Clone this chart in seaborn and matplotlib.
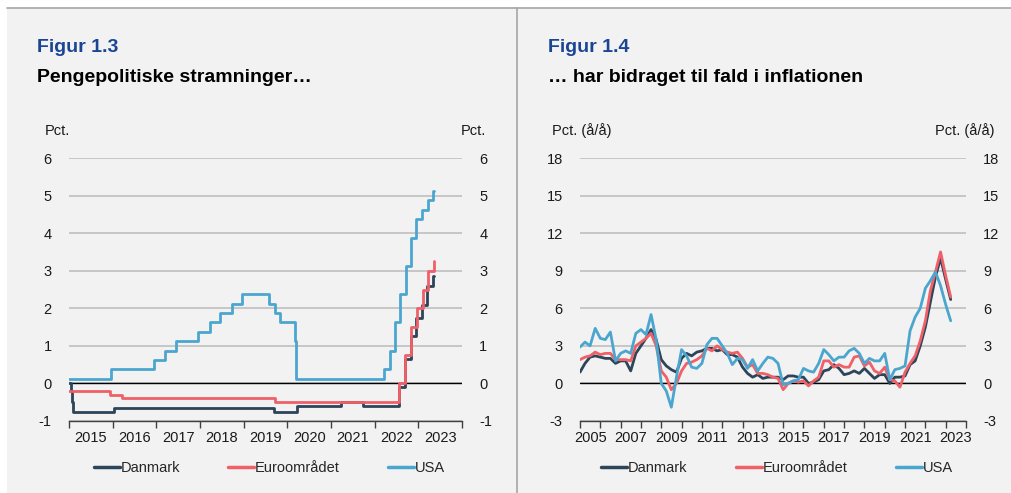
import matplotlib.pyplot as plt
import numpy as np
import pandas as pd
import seaborn as sns
from matplotlib.lines import Line2D
from matplotlib.patches import Rectangle

# Policy rates (Figur 1.3): dates where the rate changes, and the new rate
dk_dates = ["2015-01-01", "2015-01-20", "2015-01-23", "2015-01-30", "2015-02-06",
            "2016-01-08", "2019-09-13", "2020-03-20", "2021-03-26", "2021-09-24",
            "2022-07-22", "2022-09-09", "2022-11-04", "2022-12-16", "2023-02-03",
            "2023-03-17", "2023-05-05", "2023-05-12"]
dk_rate = [0.0, -0.2, -0.35, -0.5, -0.75,
           -0.65, -0.75, -0.6, -0.5, -0.6,
           -0.1, 0.65, 1.25, 1.75, 2.1,
           2.6, 2.85, 2.85]

eu_dates = ["2015-01-01", "2015-12-09", "2016-03-16", "2019-09-18", "2022-07-27",
            "2022-09-14", "2022-11-02", "2022-12-21", "2023-02-08", "2023-03-22",
            "2023-05-10", "2023-05-12"]
eu_rate = [-0.2, -0.3, -0.4, -0.5, 0.0,
           0.75, 1.5, 2.0, 2.5, 3.0,
           3.25, 3.25]

us_dates = ["2015-01-01", "2015-12-17", "2016-12-15", "2017-03-16", "2017-06-15",
            "2017-12-14", "2018-03-22", "2018-06-14", "2018-09-27", "2018-12-20",
            "2019-08-01", "2019-09-19", "2019-10-31", "2020-03-04", "2020-03-16",
            "2022-03-17", "2022-05-05", "2022-06-16", "2022-07-28", "2022-09-22",
            "2022-11-03", "2022-12-15", "2023-02-02", "2023-03-23", "2023-05-04",
            "2023-05-12"]
us_rate = [0.125, 0.375, 0.625, 0.875, 1.125,
           1.375, 1.625, 1.875, 2.125, 2.375,
           2.125, 1.875, 1.625, 1.125, 0.125,
           0.375, 0.875, 1.625, 2.375, 3.125,
           3.875, 4.375, 4.625, 4.875, 5.125,
           5.125]

# Inflation (Figur 1.4), quarterly readings from 2005Q1 to 2023Q2, pct. y/y
infl_start = "2005-01-01"
dk_infl = [0.9, 1.6, 2.1, 2.2, 2.1, 2.0, 2.0, 1.6, 1.8, 1.8, 1.0, 2.4,
           3.0, 3.6, 4.3, 3.5, 1.9, 1.4, 1.1, 0.9, 2.0, 2.4, 2.2, 2.5,
           2.6, 2.8, 2.8, 2.6, 2.7, 2.3, 2.3, 2.1, 1.3, 0.8, 0.5, 0.7,
           0.4, 0.5, 0.5, 0.5, 0.3, 0.6, 0.6, 0.5, 0.5, 0.0, 0.1, 0.3,
           1.0, 1.1, 1.5, 1.2, 0.7, 0.8, 1.0, 0.8, 1.2, 0.8, 0.4, 0.7,
           0.7, 0.0, 0.5, 0.5, 0.6, 1.5, 1.8, 3.0, 4.5, 6.5, 8.5, 10.0,
           8.3, 6.7]
eu_infl = [1.9, 2.1, 2.2, 2.5, 2.3, 2.4, 2.4, 1.9, 1.9, 1.9, 1.8, 3.0,
           3.3, 3.6, 4.0, 3.0, 1.0, 0.5, -0.5, 0.0, 1.0, 1.6, 1.7, 1.9,
           2.2, 2.8, 2.6, 3.0, 2.7, 2.5, 2.4, 2.5, 2.0, 1.3, 1.5, 0.8,
           0.8, 0.7, 0.5, 0.4, -0.5, 0.0, 0.2, 0.1, 0.2, -0.2, 0.2, 0.5,
           1.8, 1.8, 1.3, 1.5, 1.3, 1.3, 2.1, 2.2, 1.4, 1.7, 1.0, 0.8,
           1.3, 0.3, 0.2, -0.3, 0.9, 1.6, 2.2, 3.4, 5.0, 7.4, 8.9, 10.5,
           8.6, 6.9]
us_infl = [2.9, 3.3, 3.0, 4.4, 3.6, 3.5, 4.1, 1.8, 2.4, 2.6, 2.4, 4.0,
           4.3, 3.9, 5.5, 3.5, 0.0, -0.6, -1.9, 0.5, 2.7, 2.2, 1.3, 1.2,
           1.6, 3.1, 3.6, 3.6, 3.0, 2.4, 1.5, 2.0, 1.9, 1.2, 1.9, 1.0,
           1.6, 2.1, 2.0, 1.6, -0.1, 0.0, 0.2, 0.3, 1.2, 1.0, 0.9, 1.6,
           2.7, 2.3, 1.8, 2.1, 2.1, 2.6, 2.8, 2.4, 1.6, 2.0, 1.8, 1.8,
           2.4, 0.3, 1.1, 1.2, 1.4, 4.2, 5.3, 6.0, 7.6, 8.2, 8.9, 7.8,
           6.3, 5.0]

series_names = ["Danmark", "Euroområdet", "USA"]
colors = {"Danmark": "#2c4559", "Euroområdet": "#ef6068", "USA": "#4ba6cf"}
W, H = 1012, 493


def decimal_year(dates):
    d = pd.to_datetime(pd.Series(dates))
    days = np.where(d.dt.is_leap_year, 366, 365)
    return (d.dt.year + (d.dt.dayofyear - 1) / days).to_numpy()


def fig_xy(x, y):
    # pixel position in the reference -> figure fraction
    return x / W, 1 - y / H


rates = pd.concat([
    pd.DataFrame({"t": decimal_year(dk_dates), "value": dk_rate, "series": "Danmark"}),
    pd.DataFrame({"t": decimal_year(eu_dates), "value": eu_rate, "series": "Euroområdet"}),
    pd.DataFrame({"t": decimal_year(us_dates), "value": us_rate, "series": "USA"}),
])

infl_t = decimal_year(pd.date_range(infl_start, periods=len(dk_infl), freq="QS"))
infl = pd.concat([
    pd.DataFrame({"t": infl_t, "value": dk_infl, "series": "Danmark"}),
    pd.DataFrame({"t": infl_t, "value": eu_infl, "series": "Euroområdet"}),
    pd.DataFrame({"t": infl_t, "value": us_infl, "series": "USA"}),
])

sns.set_style("white")
plt.rcParams["font.family"] = ["Liberation Sans", "DejaVu Sans"]
plt.rcParams["font.size"] = 10

fig = plt.figure(figsize=(W / 100, H / 100), dpi=100, facecolor="white")
fig.patches.append(Rectangle((7 / W, 0), 1, (H - 8) / H, transform=fig.transFigure,
                             facecolor="#f2f2f2", edgecolor="none", zorder=-10))
fig.add_artist(Line2D([7 / W, 1], [1 - 8 / H, 1 - 8 / H], color="#a6a6a6", lw=1.2))
fig.add_artist(Line2D([517 / W, 517 / W], [0, 1 - 8 / H], color="#a6a6a6", lw=1.2))

ax1 = fig.add_axes([69 / W, 1 - 421 / H, 393 / W, 263 / H])
ax2 = fig.add_axes([580 / W, 1 - 421 / H, 386 / W, 263 / H])

sns.lineplot(data=rates, x="t", y="value", hue="series", hue_order=series_names,
             palette=colors, estimator=None, sort=False, drawstyle="steps-post",
             linewidth=2.0, ax=ax1)
sns.lineplot(data=infl, x="t", y="value", hue="series", hue_order=series_names,
             palette=colors, estimator=None, sort=False, linewidth=2.0, ax=ax2)


def style_axis(ax, ylim, yticks, years, label_years):
    ax.set_facecolor("none")
    ax.set_xlim(years[0], years[-1])
    ax.set_ylim(*ylim)
    ax.set_yticks(yticks)
    ax.set_yticklabels([str(v) for v in yticks])
    ax.set_xlabel("")
    ax.set_ylabel("")
    ax.yaxis.grid(True, color="#bfbfbf", lw=1.2, zorder=0)
    ax.xaxis.grid(False)
    ax.axhline(0, color="black", lw=1.0, zorder=1.5)
    for side in ["top", "left", "right"]:
        ax.spines[side].set_visible(False)
    ax.spines["bottom"].set_color("#404040")
    ax.spines["bottom"].set_linewidth(1.0)
    ax.set_xticks(years)
    ax.set_xticklabels([])
    ax.set_xticks([y + 0.5 for y in label_years], minor=True)
    ax.set_xticklabels([str(y) for y in label_years], minor=True)
    ax.tick_params(axis="x", which="major", length=5, width=1, color="#404040",
                   direction="out", bottom=True)
    ax.tick_params(axis="x", which="minor", length=0, pad=7, labelsize=10.5,
                   labelcolor="#1a1a1a")
    ax.tick_params(axis="y", which="both", left=False, right=False, labelleft=True,
                   labelright=True, pad=9, labelsize=10.5, labelcolor="#1a1a1a")
    sns.move_legend(ax, "center", bbox_to_anchor=(0.51, -0.18), ncol=3, frameon=False,
                    title=None, fontsize=10.5, handlelength=1.8, handletextpad=0.05,
                    columnspacing=3.3)


style_axis(ax1, (-1, 6), list(range(-1, 7)), list(range(2015, 2025)),
           list(range(2015, 2024)))
style_axis(ax2, (-3, 18), list(range(-3, 19, 3)), list(range(2005, 2025)),
           list(range(2005, 2024, 2)))

for leg in [ax1.get_legend(), ax2.get_legend()]:
    for h in leg.get_lines():
        h.set_linewidth(2.5)

title_blue = "#1a4594"
fig.text(*fig_xy(37, 48), "Figur 1.3", color=title_blue, fontsize=14, fontweight="bold",
         va="center", ha="left")
fig.text(*fig_xy(37, 78), "Pengepolitiske stramninger…", color="black", fontsize=14,
         fontweight="bold", va="center", ha="left")
fig.text(*fig_xy(548, 48), "Figur 1.4", color=title_blue, fontsize=14, fontweight="bold",
         va="center", ha="left")
fig.text(*fig_xy(548, 78), "… har bidraget til fald i inflationen", color="black",
         fontsize=14, fontweight="bold", va="center", ha="left")

fig.text(*fig_xy(45, 131), "Pct.", fontsize=10.5, va="center", ha="left", color="#1a1a1a")
fig.text(*fig_xy(486, 131), "Pct.", fontsize=10.5, va="center", ha="right", color="#1a1a1a")
fig.text(*fig_xy(552, 131), "Pct. (å/å)", fontsize=10.5, va="center", ha="left",
         color="#1a1a1a")
fig.text(*fig_xy(995, 131), "Pct. (å/å)", fontsize=10.5, va="center", ha="right",
         color="#1a1a1a")

fig.savefig("out.png", dpi=100, facecolor=fig.get_facecolor())
